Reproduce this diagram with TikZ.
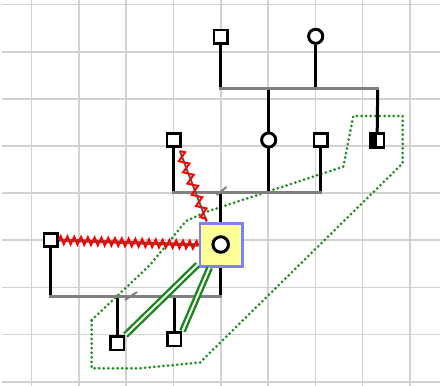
\documentclass[tikz,border=0pt]{standalone}
\usetikzlibrary{decorations.pathmorphing,calc}
\definecolor{gridc}{RGB}{210,210,210}
\definecolor{mgray}{RGB}{128,128,128}
\definecolor{dgray}{RGB}{90,90,90}
\definecolor{gdot}{RGB}{30,140,30}
\definecolor{gdbl}{RGB}{25,135,25}
\definecolor{boxfill}{RGB}{255,255,153}
\definecolor{boxline}{RGB}{128,128,255}
\begin{document}
\begin{tikzpicture}[x=1pt,y=-1pt,
  gridl/.style={draw=gridc, line width=1.6pt},
  sq/.style={rectangle, draw=black, fill=white, line width=2.8pt, minimum size=13.5pt, inner sep=0pt},
  ci/.style={circle, draw=black, fill=white, line width=2.8pt, minimum size=14pt, inner sep=0pt},
  vl/.style={draw=black, line width=3pt},
  ml/.style={draw=mgray, line width=3pt},
  slashm/.style={draw=mgray, line width=2pt},
  probox/.style={rectangle, draw=boxline, fill=boxfill, line width=2.8pt, minimum size=42.5pt, inner sep=0pt},
  zigred/.style={draw=red, line width=2pt, decorate},
  undergray/.style={draw=dgray, line width=3.2pt},
  greendbl/.style={draw=gdbl, double=white, double distance=2pt, line width=2.4pt},
  hull/.style={draw=gdot, line width=3pt, line cap=round, dash pattern=on 0pt off 4.6pt}
]
\useasboundingbox (0,0) rectangle (440,386);
% grid
\foreach \gx in {31.5,78.8,126.1,173.4,220.7,268,315.3,362.6,409.9}
  \draw[gridl] (\gx,0) -- (\gx,386);
\foreach \gy in {4.5,51.7,98.8,146,193,240,287.4,334.5,381.7}
  \draw[gridl] (2,\gy) -- (440,\gy);

% nodes
\node[sq] (gf) at (220.7,36.7) {};
\node[ci] (gm) at (315.7,36.3) {};
\node[sq] (f1) at (173.7,140) {};
\node[ci] (mo) at (268.7,140) {};
\node[sq] (f2) at (320.7,140) {};
\node[sq, path picture={\fill[black] (path picture bounding box.north west) rectangle (path picture bounding box.south);}] (un) at (377.2,140.5) {};
\node[sq] (sp) at (50.7,240) {};
\node[probox] (bx) at (221.3,245) {};
\node[ci, minimum size=15.5pt, line width=3pt] (pr) at (220.7,244.5) {};
\node[sq] (c1) at (117.3,343.3) {};
\node[sq] (c2) at (174.3,339.3) {};

% junction coordinates
\coordinate (m1L) at (220.7,88.7);
\coordinate (m1R) at (377.7,88.7);
\coordinate (m2L) at (173.7,192.7);
\coordinate (m2R) at (320.7,192.7);
\coordinate (m2c) at (220.7,192.7);
\coordinate (m3L) at (50.7,296.7);
\coordinate (m3R) at (220.7,296.7);

% green hull
\draw[hull] (91.7,320) -- (150,265) -- (186,221) -- (206,212) -- (343.3,166.7)
  -- (353.3,116) -- (402.7,116) -- (402.7,163.3) -- (200,362.5) -- (140,368.3)
  -- (91.7,368.3) -- cycle;

% vertical lines
\draw[vl] (gf.south) -- (m1L);
\draw[vl] (gm.south) -- (gm |- m1L);
\draw[vl] (mo.north) -- (mo |- m1L);
\draw[vl] (un.north) -- (m1R);
\draw[vl] (f1.south) -- (m2L);
\draw[vl] (mo.south) -- (mo |- m2L);
\draw[vl] (f2.south) -- (m2R);
\draw[vl] (m2c) -- (bx.north -| m2c);
\draw[vl] (sp.south) -- (m3L);
\draw[vl] (bx.south -| m3R) -- (m3R);
\draw[vl] (c1.north) -- (c1 |- m3L);
\draw[vl] (c2.north) -- (c2 |- m3L);

% marriage lines
\draw[ml] ($(m1L)+(-1.5,0)$) -- ($(m1R)+(1.5,0)$);
\draw[ml] ($(m2L)+(-1.5,0)$) -- ($(m2R)+(1.5,0)$);
\draw[ml] ($(m3L)+(-1.5,0)$) -- ($(m3R)+(1.5,0)$);
\draw[slashm] ($(221.5,191)+(-5,4)$) -- ($(221.5,191)+(5,-4)$);
\draw[slashm] ($(131,296)+(-6,4)$) -- ($(131,296)+(6,-4)$);

% redraw nodes on top
\node[sq] at (gf) {};
\node[ci] at (gm) {};
\node[sq] at (f1) {};
\node[ci] at (mo) {};
\node[sq] at (f2) {};
\node[sq, path picture={\fill[black] (path picture bounding box.north west) rectangle (path picture bounding box.south);}] at (un) {};
\node[sq] at (sp) {};
\node[sq] at (c1) {};
\node[sq] at (c2) {};

% relationship lines
\draw[undergray] (sp.east) -- (bx.west);
\draw[zigred, decoration={zigzag, segment length=6.8pt, amplitude=3.8pt}] (sp.east) -- (bx.west);
\draw[undergray, line width=2pt] ($(f1.south east)+(-2,3)$) -- ($(bx.north west)+(8,-1)$);
\draw[zigred, decoration={zigzag, segment length=12pt, amplitude=4.5pt}] ($(f1.south east)+(-2,3)$) -- ($(bx.north west)+(8,-1)$);

% box on top
\node[probox] at (bx) {};
\node[ci, minimum size=15.5pt, line width=3pt] at (pr) {};

% green double lines
\draw[greendbl] ($(bx.south west)+(-1,-3)$) -- (c1.north east);
\draw[greendbl] ($(bx.south west)+(11,0)$) -- (c2.north east);
\end{tikzpicture}
\end{document}
